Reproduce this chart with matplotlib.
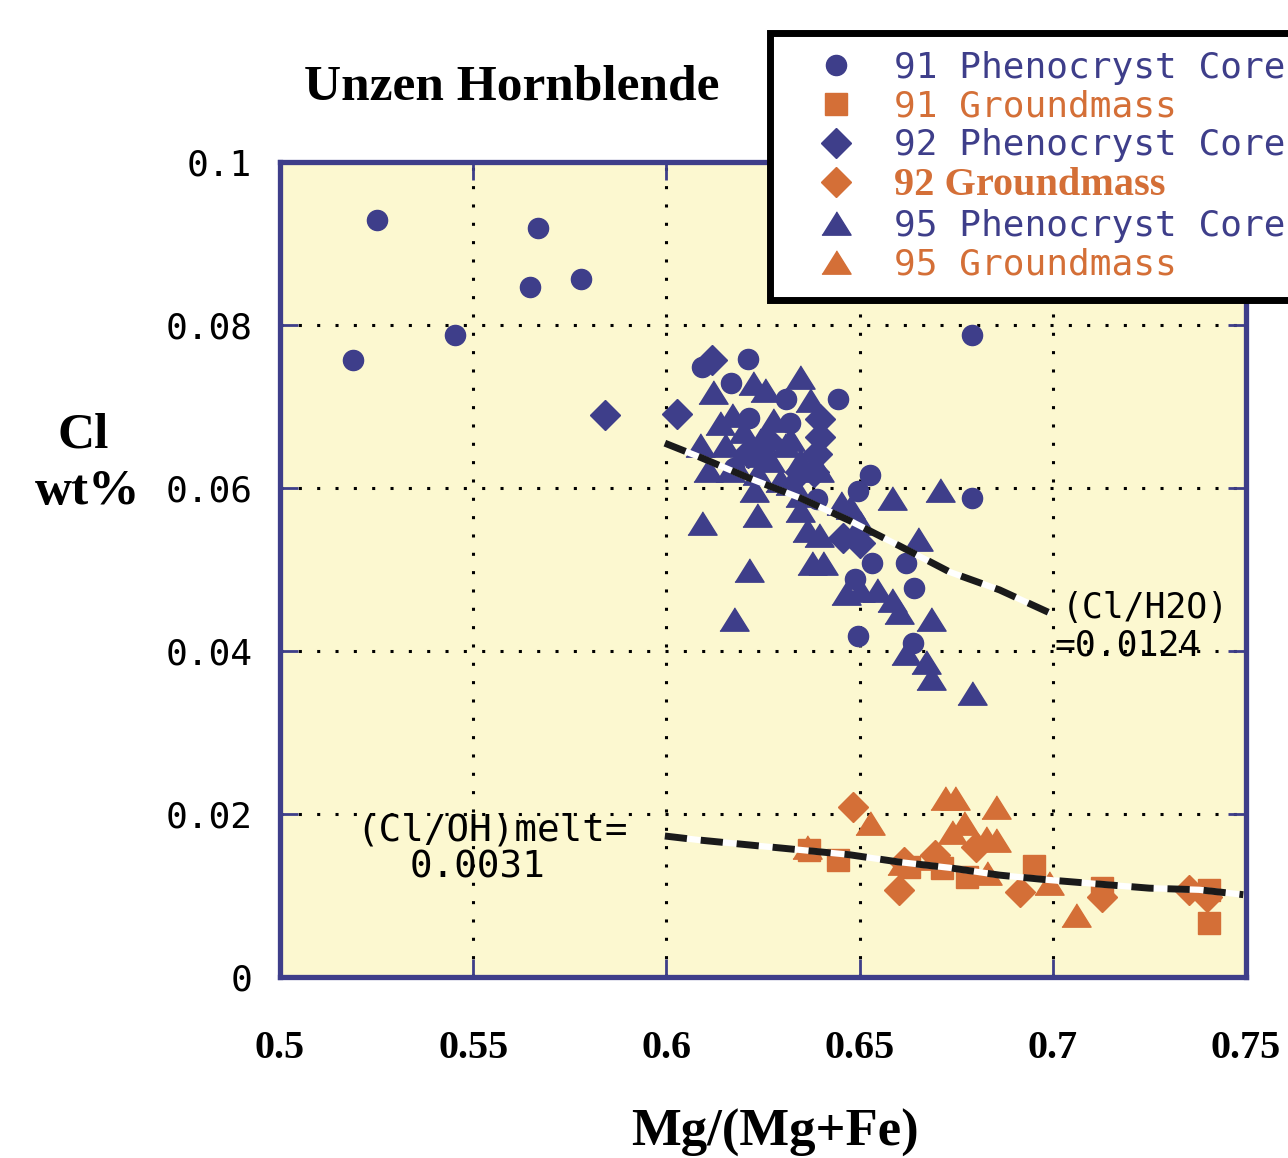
import matplotlib

matplotlib.use("Agg")

import matplotlib.pyplot as plt
from matplotlib.lines import Line2D

NAVY = "#3e3e8a"
ORANGE = "#d46f37"
BG = "#fcf8d0"
MONO = "DejaVu Sans Mono"
SERIF = "Liberation Serif"

# 91 phenocryst core (circles)
pc91_x = [0.5251, 0.5667, 0.5646, 0.5778, 0.5453, 0.5189, 0.6790, 0.6790,
          0.6210, 0.6091, 0.6166, 0.6309, 0.6443, 0.6319, 0.6215, 0.6528,
          0.6495, 0.6391, 0.6533, 0.6619, 0.6487, 0.6640, 0.6495, 0.6637,
          0.6174]
pc91_y = [0.0929, 0.0919, 0.0847, 0.0856, 0.0788, 0.0757, 0.0788, 0.0588,
          0.0758, 0.0749, 0.0729, 0.0709, 0.0709, 0.0680, 0.0686, 0.0616,
          0.0596, 0.0586, 0.0508, 0.0508, 0.0488, 0.0477, 0.0418, 0.0410,
          0.0625]

# 92 phenocryst core (diamonds)
pc92_x = [0.5840, 0.6027, 0.6117, 0.6397, 0.6397, 0.6391, 0.6383, 0.6262,
          0.6210, 0.6458, 0.6500, 0.6345]
pc92_y = [0.0690, 0.0691, 0.0757, 0.0685, 0.0663, 0.0642, 0.0620, 0.0658,
          0.0643, 0.0539, 0.0533, 0.0620]

# 95 phenocryst core (triangles)
pc95_x = [0.6345, 0.6223, 0.6120, 0.6254, 0.6371, 0.6138, 0.6171, 0.6275,
          0.6086, 0.6151, 0.6241, 0.6306, 0.6177, 0.6107, 0.6267, 0.6345,
          0.6396, 0.6228, 0.6293, 0.6345, 0.6091, 0.6234, 0.6363, 0.6396,
          0.6474, 0.6500, 0.6583, 0.6709, 0.6652, 0.6215, 0.6174, 0.6378,
          0.6404, 0.6466, 0.6500, 0.6546, 0.6585, 0.6603, 0.6686, 0.6619,
          0.6673, 0.6686, 0.6792, 0.6164, 0.6234, 0.6319, 0.6453, 0.6345,
          0.6197, 0.6319, 0.6241]
pc95_y = [0.0736, 0.0729, 0.0718, 0.0720, 0.0708, 0.0680, 0.0690, 0.0683,
          0.0653, 0.0653, 0.0659, 0.0653, 0.0628, 0.0622, 0.0634, 0.0634,
          0.0622, 0.0598, 0.0610, 0.0591, 0.0557, 0.0567, 0.0548, 0.0542,
          0.0577, 0.0557, 0.0588, 0.0598, 0.0537, 0.0499, 0.0439, 0.0508,
          0.0508, 0.0471, 0.0475, 0.0475, 0.0463, 0.0448, 0.0439, 0.0398,
          0.0387, 0.0367, 0.0348, 0.0622, 0.0618, 0.0606, 0.0582, 0.0573,
          0.0670, 0.0660, 0.0640]

# 91 groundmass (squares)
gm91_x = [0.6370, 0.6443, 0.6629, 0.6712, 0.6779, 0.6952, 0.7128, 0.7405,
          0.7405]
gm91_y = [0.0156, 0.0143, 0.0135, 0.0134, 0.0123, 0.0136, 0.0109, 0.0107,
          0.0066]

# 92 groundmass (diamonds)
gm92_x = [0.6484, 0.6603, 0.6802, 0.6914, 0.7128, 0.7353, 0.7400, 0.6694,
          0.6616]
gm92_y = [0.0209, 0.0107, 0.0160, 0.0104, 0.0098, 0.0107, 0.0098, 0.0150,
          0.0141]

# 95 groundmass (triangles)
gm95_x = [0.6365, 0.6528, 0.6720, 0.6746, 0.6854, 0.6771, 0.6740, 0.6828,
          0.6854, 0.6831, 0.6991, 0.7061, 0.6611, 0.6689]
gm95_y = [0.0160, 0.0189, 0.0220, 0.0220, 0.0209, 0.0189, 0.0178, 0.0171,
          0.0168, 0.0128, 0.0115, 0.0076, 0.0140, 0.0146]

# hand-drawn partition lines
h2o_x = [0.5996, 0.6086, 0.6215, 0.6345, 0.6474, 0.6603, 0.6733, 0.6862,
         0.6991]
h2o_y = [0.0655, 0.0638, 0.0612, 0.0588, 0.0560, 0.0529, 0.0497, 0.0475,
         0.0447]
oh_x = [0.5996, 0.6086, 0.6215, 0.6345, 0.6474, 0.6603, 0.6733, 0.6862,
        0.6991, 0.7120, 0.7250, 0.7379, 0.7493]
oh_y = [0.0173, 0.0168, 0.0162, 0.0156, 0.0150, 0.0141, 0.0134, 0.0125,
        0.0119, 0.0114, 0.0109, 0.0107, 0.0101]

x_ticks = [0.5, 0.55, 0.6, 0.65, 0.7, 0.75]
x_labels = ["0.5", "0.55", "0.6", "0.65", "0.7", "0.75"]
y_ticks = [0, 0.02, 0.04, 0.06, 0.08, 0.1]
y_labels = ["0", "0.02", "0.04", "0.06", "0.08", "0.1"]

tri = [(-1, -0.8), (1, -0.8), (0, 0.8)]

fig = plt.figure(figsize=(12.88, 11.58), dpi=100)
ax = fig.add_axes([280 / 1288, 1 - 977 / 1158, 966 / 1288, 815 / 1158])
ax.set_facecolor(BG)

for x, y, fmt, ms in [(gm91_x, gm91_y, "s", 16), (gm95_x, gm95_y, tri, 21),
                      (gm92_x, gm92_y, "D", 15)]:
    ax.plot(x, y, ls="none", marker=fmt, ms=ms, color=ORANGE, mec=ORANGE,
            zorder=3)
for x, y, fmt, ms in [(pc95_x, pc95_y, tri, 21), (pc92_x, pc92_y, "D", 15),
                      (pc91_x, pc91_y, "o", 14.5)]:
    ax.plot(x, y, ls="none", marker=fmt, ms=ms, color=NAVY, mec=NAVY,
            zorder=3)

for x, y in [(h2o_x, h2o_y), (oh_x, oh_y)]:
    ax.plot(x, y, color="white", lw=4.5, zorder=4, solid_capstyle="butt")
    ax.plot(x, y, color="#1a1a1a", lw=5, ls=(0, (3.2, 2.0)), zorder=5)

ax.text(0.7022, 0.0453, "(Cl/H2O)", family=MONO, fontsize=25, va="center",
        zorder=6)
ax.text(0.7004, 0.0407, "=0.0124", family=MONO, fontsize=25, va="center",
        zorder=6)
ax.text(0.5197, 0.0180, "(Cl/OH)melt=", family=MONO, fontsize=27,
        va="center", zorder=6)
ax.text(0.5336, 0.0134, "0.0031", family=MONO, fontsize=27, va="center",
        zorder=6)

ax.set_xlim(0.5, 0.75)
ax.set_ylim(0, 0.1)
ax.set_xticks(x_ticks, x_labels, family=SERIF, fontweight="bold",
              fontsize=29)
ax.set_yticks(y_ticks, y_labels, family=MONO, fontsize=26)
ax.tick_params(direction="in", length=13, width=2, color=NAVY,
               left=True, right=True, top=True, bottom=True)
ax.tick_params(axis="x", pad=38)
ax.tick_params(axis="y", pad=20)
ax.grid(True, color="black", ls=(0, (1, 5)), lw=2.2, zorder=1)
ax.set_axisbelow(True)
for s in ax.spines.values():
    s.set_color(NAVY)
    s.set_linewidth(3.8)

fig.text(512 / 1288, 1 - 88 / 1158, "Unzen Hornblende", family=SERIF,
         fontweight="bold", fontsize=37, ha="center", va="center")
fig.text(83 / 1288, 1 - 435 / 1158, "Cl", family=SERIF, fontweight="bold",
         fontsize=37, ha="center", va="center")
fig.text(88 / 1288, 1 - 492 / 1158, "wt%", family=SERIF, fontweight="bold",
         fontsize=37, ha="center", va="center")
fig.text(775 / 1288, 1 - 1133 / 1158, "Mg/(Mg+Fe)", family=SERIF,
         fontweight="bold", fontsize=38, ha="center", va="center")

labels = ["91 Phenocryst Core", "91 Groundmass", "92 Phenocryst Core",
          "92 Groundmass", "95 Phenocryst Core", "95 Groundmass"]
markers = [("o", 14.5, NAVY), ("s", 16, ORANGE), ("D", 15, NAVY),
           ("D", 15, ORANGE), (tri, 21, NAVY), (tri, 21, ORANGE)]
handles = [Line2D([], [], ls="none", marker=m, ms=ms, color=c, mec=c)
           for m, ms, c in markers]
leg = fig.legend(handles, labels, loc="upper left",
                 bbox_to_anchor=(770 / 1288, 0, 560 / 1288, 1 - 33 / 1158),
                 mode="expand",
                 prop={"family": MONO, "size": 26}, frameon=True,
                 fancybox=False, edgecolor="black", framealpha=1,
                 borderaxespad=0, borderpad=0.5, handlelength=2.67,
                 handletextpad=0.25, labelspacing=0.13,
                 labelcolor=[c for _, _, c in markers])
leg.get_frame().set_linewidth(5)
t = leg.get_texts()[3]
t.set_fontfamily(SERIF)
t.set_fontweight("bold")
t.set_fontsize(29)

fig.savefig("out.png", dpi=100)
